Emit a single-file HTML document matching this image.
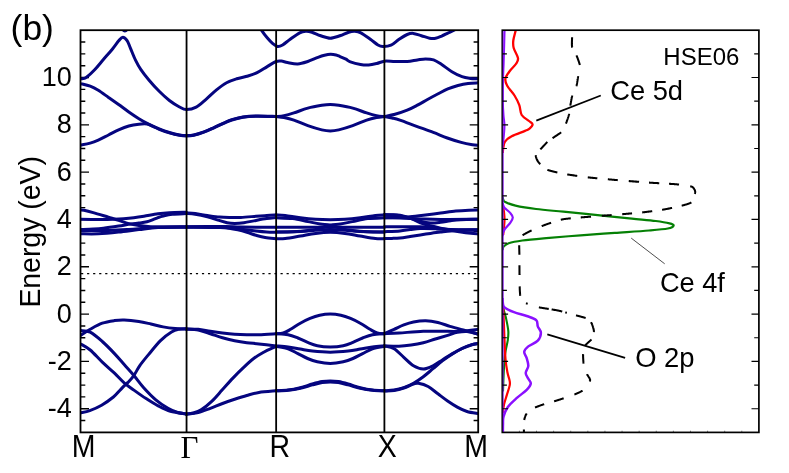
<!DOCTYPE html>
<html><head><meta charset="utf-8"><title>Band structure and DOS (HSE06)</title>
<style>
html,body{margin:0;padding:0;background:#fff;}
body{width:789px;height:473px;overflow:hidden;position:relative;font-family:"Liberation Sans",sans-serif;}
</style></head><body>
<svg width="789" height="473" viewBox="0 0 789 473" style="position:absolute;left:0;top:0;will-change:transform;opacity:0.999">
<defs><clipPath id="cl"><rect x="80.5" y="30.2" width="397.7" height="402.2"/></clipPath><clipPath id="cr"><rect x="502.3" y="30.2" width="256.59999999999997" height="402.2"/></clipPath></defs>
<rect width="100%" height="100%" fill="#fff"/>
<path d="M80.5,420.57h4.8M478.2,420.57h-4.6M80.5,408.74h8.5M478.2,408.74h-8.5M80.5,396.91h4.8M478.2,396.91h-4.6M80.5,385.08h4.8M478.2,385.08h-4.6M80.5,373.25h4.8M478.2,373.25h-4.6M80.5,361.42h8.5M478.2,361.42h-8.5M80.5,349.59h4.8M478.2,349.59h-4.6M80.5,337.76h4.8M478.2,337.76h-4.6M80.5,325.94h4.8M478.2,325.94h-4.6M80.5,314.11h8.5M478.2,314.11h-8.5M80.5,302.28h4.8M478.2,302.28h-4.6M80.5,290.45h4.8M478.2,290.45h-4.6M80.5,278.62h4.8M478.2,278.62h-4.6M80.5,266.79h8.5M478.2,266.79h-8.5M80.5,254.96h4.8M478.2,254.96h-4.6M80.5,243.13h4.8M478.2,243.13h-4.6M80.5,231.30h4.8M478.2,231.30h-4.6M80.5,219.47h8.5M478.2,219.47h-8.5M80.5,207.64h4.8M478.2,207.64h-4.6M80.5,195.81h4.8M478.2,195.81h-4.6M80.5,183.98h4.8M478.2,183.98h-4.6M80.5,172.15h8.5M478.2,172.15h-8.5M80.5,160.32h4.8M478.2,160.32h-4.6M80.5,148.49h4.8M478.2,148.49h-4.6M80.5,136.66h4.8M478.2,136.66h-4.6M80.5,124.84h8.5M478.2,124.84h-8.5M80.5,113.01h4.8M478.2,113.01h-4.6M80.5,101.18h4.8M478.2,101.18h-4.6M80.5,89.35h4.8M478.2,89.35h-4.6M80.5,77.52h8.5M478.2,77.52h-8.5M80.5,65.69h4.8M478.2,65.69h-4.6M80.5,53.86h4.8M478.2,53.86h-4.6M80.5,42.03h4.8M478.2,42.03h-4.6" stroke="#000" stroke-width="1.4" fill="none"/>
<g clip-path="url(#cl)" fill="none" stroke="#05057f" stroke-width="3.0" stroke-linecap="round" stroke-linejoin="round">
<path d="M80.50,78.90 C80.92,78.85 82.00,78.87 83.00,78.60 C84.00,78.33 84.52,78.82 86.50,77.30 C88.48,75.78 92.05,72.50 94.90,69.50 C97.75,66.50 100.70,62.68 103.60,59.30 C106.50,55.92 109.75,52.32 112.30,49.20 C114.85,46.08 117.15,42.58 118.90,40.60 C120.65,38.62 121.43,37.30 122.80,37.30 C124.17,37.30 125.82,38.77 127.10,40.60 C128.38,42.43 129.10,45.05 130.50,48.30 C131.90,51.55 133.77,56.55 135.50,60.10 C137.23,63.65 138.63,66.25 140.90,69.60 C143.17,72.95 146.05,76.58 149.10,80.20 C152.15,83.82 155.82,87.92 159.20,91.30 C162.58,94.68 166.02,97.88 169.40,100.50 C172.78,103.12 176.68,105.48 179.50,107.00 C182.32,108.52 183.52,109.57 186.30,109.60 C189.08,109.63 192.87,108.95 196.20,107.20 C199.53,105.45 202.92,101.98 206.30,99.10 C209.68,96.22 213.12,92.62 216.50,89.90 C219.88,87.18 223.22,84.65 226.60,82.80 C229.98,80.95 233.42,79.88 236.80,78.80 C240.18,77.72 243.52,77.32 246.90,76.30 C250.28,75.28 253.72,74.32 257.10,72.70 C260.48,71.08 264.03,68.47 267.20,66.60 C270.37,64.73 273.73,62.42 276.10,61.50 C278.47,60.58 279.50,60.93 281.40,61.10 C283.30,61.27 284.78,62.03 287.50,62.50 C290.22,62.97 294.32,64.07 297.70,63.90 C301.08,63.73 304.42,62.58 307.80,61.50 C311.18,60.42 315.22,58.43 318.00,57.40 C320.78,56.37 322.42,55.82 324.50,55.30 C326.58,54.78 328.58,54.35 330.50,54.30 C332.42,54.25 334.42,54.62 336.00,55.00 C337.58,55.38 338.33,55.90 340.00,56.60 C341.67,57.30 344.27,58.32 346.00,59.20 C347.73,60.08 347.98,61.02 350.40,61.90 C352.82,62.78 357.47,63.98 360.50,64.50 C363.53,65.02 365.88,65.17 368.60,65.00 C371.32,64.83 374.17,64.13 376.80,63.50 C379.43,62.87 381.37,61.53 384.40,61.20 C387.43,60.87 391.20,61.45 395.00,61.50 C398.80,61.55 403.47,61.77 407.20,61.50 C410.93,61.23 414.35,60.33 417.40,59.90 C420.45,59.47 422.80,58.90 425.50,58.90 C428.20,58.90 430.90,58.97 433.60,59.90 C436.30,60.83 438.65,62.53 441.70,64.50 C444.75,66.47 448.52,69.67 451.90,71.70 C455.28,73.73 458.95,75.58 462.00,76.70 C465.05,77.82 467.48,78.05 470.20,78.40 C472.92,78.75 476.95,78.73 478.30,78.80"/>
<path d="M80.50,83.60 C82.12,84.03 87.23,85.08 90.20,86.20 C93.17,87.32 95.25,88.43 98.30,90.30 C101.35,92.17 105.12,95.03 108.50,97.40 C111.88,99.77 115.22,102.07 118.60,104.50 C121.98,106.93 125.42,109.63 128.80,112.00 C132.18,114.37 135.52,116.63 138.90,118.70 C142.28,120.77 145.72,122.70 149.10,124.40 C152.48,126.10 155.82,127.55 159.20,128.90 C162.58,130.25 166.02,131.48 169.40,132.50 C172.78,133.52 176.68,134.48 179.50,135.00 C182.32,135.52 183.93,135.60 186.30,135.60 C188.67,135.60 190.77,135.62 193.70,135.00 C196.63,134.38 200.52,133.15 203.90,131.90 C207.28,130.65 210.62,129.02 214.00,127.50 C217.38,125.98 221.08,124.15 224.20,122.80 C227.32,121.45 229.58,120.38 232.70,119.40 C235.82,118.42 238.85,117.48 242.90,116.90 C246.95,116.32 251.47,115.97 257.00,115.90 C262.53,115.83 272.92,116.40 276.10,116.50"/>
<path d="M80.50,145.10 C82.12,144.77 87.23,143.93 90.20,143.10 C93.17,142.27 95.25,141.45 98.30,140.10 C101.35,138.75 105.12,136.70 108.50,135.00 C111.88,133.30 115.22,131.40 118.60,129.90 C121.98,128.40 125.42,126.95 128.80,126.00 C132.18,125.05 135.87,124.53 138.90,124.20 C141.93,123.87 144.65,123.63 147.00,124.00 C149.35,124.37 150.97,125.52 153.00,126.40 C155.03,127.28 156.47,128.22 159.20,129.30 C161.93,130.38 166.02,131.90 169.40,132.90 C172.78,133.90 176.68,134.80 179.50,135.30 C182.32,135.80 183.93,135.90 186.30,135.90 C188.67,135.90 190.77,135.92 193.70,135.30 C196.63,134.68 200.52,133.45 203.90,132.20 C207.28,130.95 210.62,129.32 214.00,127.80 C217.38,126.28 221.08,124.45 224.20,123.10 C227.32,121.75 229.58,120.68 232.70,119.70 C235.82,118.72 238.85,117.78 242.90,117.20 C246.95,116.62 251.47,116.30 257.00,116.20 C262.53,116.10 272.92,116.53 276.10,116.60"/>
<path d="M276.10,116.50 C277.42,116.35 281.03,116.20 284.00,115.60 C286.97,115.00 289.93,114.15 293.90,112.90 C297.87,111.65 303.15,109.37 307.80,108.10 C312.45,106.83 318.05,105.90 321.80,105.30 C325.55,104.70 327.45,104.50 330.27,104.50 C333.10,104.50 335.00,104.70 338.75,105.30 C342.50,105.90 348.10,106.83 352.75,108.10 C357.40,109.37 362.68,111.65 366.65,112.90 C370.62,114.15 373.58,115.00 376.55,115.60 C379.52,116.20 383.13,116.35 384.45,116.50"/>
<path d="M276.10,116.50 C277.42,116.67 281.03,116.90 284.00,117.50 C286.97,118.10 289.93,118.73 293.90,120.10 C297.87,121.47 303.15,124.07 307.80,125.70 C312.45,127.33 318.05,129.02 321.80,129.90 C325.55,130.78 327.45,131.00 330.27,131.00 C333.10,131.00 335.00,130.78 338.75,129.90 C342.50,129.02 348.10,127.33 352.75,125.70 C357.40,124.07 362.68,121.47 366.65,120.10 C370.62,118.73 373.58,118.10 376.55,117.50 C379.52,116.90 383.13,116.67 384.45,116.50"/>
<path d="M384.40,116.60 C386.17,116.22 391.20,115.37 395.00,114.30 C398.80,113.23 403.47,111.72 407.20,110.20 C410.93,108.68 414.02,106.98 417.40,105.20 C420.78,103.42 424.12,101.37 427.50,99.50 C430.88,97.63 434.32,95.77 437.70,94.00 C441.08,92.23 444.42,90.32 447.80,88.90 C451.18,87.48 454.62,86.42 458.00,85.50 C461.38,84.58 464.72,83.85 468.10,83.40 C471.48,82.95 476.60,82.90 478.30,82.80"/>
<path d="M384.40,116.60 C385.67,116.83 389.42,117.42 392.00,118.00 C394.58,118.58 395.80,118.72 399.90,120.10 C404.00,121.48 411.03,124.25 416.60,126.30 C422.17,128.35 428.18,130.45 433.30,132.40 C438.42,134.35 442.65,136.33 447.30,138.00 C451.95,139.67 457.02,141.28 461.20,142.40 C465.38,143.52 469.52,144.23 472.40,144.70 C475.28,145.17 477.48,145.12 478.50,145.20"/>
<path d="M258.00,24.00 C258.52,24.93 259.57,27.30 261.10,29.60 C262.63,31.90 265.25,35.47 267.20,37.80 C269.15,40.13 271.07,42.15 272.80,43.60 C274.53,45.05 275.97,46.27 277.60,46.50 C279.23,46.73 280.50,46.22 282.60,45.00 C284.70,43.78 287.35,41.23 290.20,39.20 C293.05,37.17 297.10,34.12 299.70,32.80 C302.30,31.48 303.77,31.40 305.80,31.30 C307.83,31.20 309.53,31.50 311.90,32.20 C314.27,32.90 317.57,34.62 320.00,35.50 C322.43,36.38 324.79,37.03 326.50,37.50 C328.21,37.97 329.02,38.30 330.27,38.30 C331.53,38.30 332.34,37.97 334.05,37.50 C335.76,37.03 338.12,36.38 340.55,35.50 C342.98,34.62 346.28,32.90 348.65,32.20 C351.02,31.50 352.72,31.20 354.75,31.30 C356.78,31.40 358.25,31.48 360.85,32.80 C363.45,34.12 367.50,37.17 370.35,39.20 C373.20,41.23 375.85,43.78 377.95,45.00 C380.05,46.22 380.77,46.47 382.95,46.50 C385.12,46.53 388.31,46.42 391.00,45.20 C393.69,43.98 396.40,40.98 399.10,39.20 C401.80,37.42 404.83,35.47 407.20,34.50 C409.57,33.53 410.93,33.20 413.30,33.40 C415.67,33.60 418.68,34.90 421.40,35.70 C424.12,36.50 427.23,37.77 429.60,38.20 C431.97,38.63 433.58,38.65 435.60,38.30 C437.62,37.95 439.67,36.97 441.70,36.10 C443.73,35.23 445.60,34.18 447.80,33.10 C450.00,32.02 452.87,30.78 454.90,29.60 C456.93,28.42 459.15,26.60 460.00,26.00"/>
<path d="M120.80,26.00 C121.15,26.63 122.22,28.98 122.90,29.80 C123.58,30.62 124.23,30.90 124.90,30.90 C125.57,30.90 126.22,30.62 126.90,29.80 C127.58,28.98 128.65,26.63 129.00,26.00"/>
<path d="M80.50,210.00 C81.08,210.05 81.88,209.87 84.00,210.30 C86.12,210.73 89.13,211.45 93.20,212.60 C97.27,213.75 104.17,215.92 108.40,217.20 C112.63,218.48 115.22,219.23 118.60,220.30 C121.98,221.37 125.32,222.72 128.70,223.60 C132.08,224.48 135.68,225.10 138.90,225.60 C142.12,226.10 144.22,226.37 148.00,226.60 C151.78,226.83 155.22,226.92 161.60,227.00 C167.98,227.08 182.18,227.08 186.30,227.10"/>
<path d="M80.50,219.30 C83.88,219.33 95.30,219.50 100.80,219.50 C106.30,219.50 109.70,219.42 113.50,219.30 C117.30,219.18 120.22,219.05 123.60,218.80 C126.98,218.55 130.42,218.22 133.80,217.80 C137.18,217.38 139.87,216.97 143.90,216.30 C147.93,215.63 153.77,214.40 158.00,213.80 C162.23,213.20 164.58,212.97 169.30,212.70 C174.02,212.43 183.47,212.28 186.30,212.20"/>
<path d="M80.50,229.50 C82.62,229.43 89.38,229.30 93.20,229.10 C97.02,228.90 99.17,228.80 103.40,228.30 C107.63,227.80 114.05,226.82 118.60,226.10 C123.15,225.38 127.32,224.50 130.70,224.00 C134.08,223.50 136.18,223.47 138.90,223.10 C141.62,222.73 144.65,222.37 147.00,221.80 C149.35,221.23 151.17,220.40 153.00,219.70 C154.83,219.00 156.30,218.22 158.00,217.60 C159.70,216.98 160.82,216.55 163.20,216.00 C165.58,215.45 168.45,214.70 172.30,214.30 C176.15,213.90 183.97,213.72 186.30,213.60"/>
<path d="M80.50,230.40 C85.15,230.42 100.37,230.65 108.40,230.50 C116.43,230.35 122.37,229.92 128.70,229.50 C135.03,229.08 140.92,228.40 146.40,228.00 C151.88,227.60 154.95,227.30 161.60,227.10 C168.25,226.90 182.18,226.85 186.30,226.80"/>
<path d="M80.50,233.80 C83.47,233.80 91.95,234.08 98.30,233.80 C104.65,233.52 111.83,232.80 118.60,232.10 C125.37,231.40 132.33,230.35 138.90,229.60 C145.47,228.85 150.10,227.98 158.00,227.60 C165.90,227.22 181.58,227.35 186.30,227.30"/>
<path d="M186.30,212.90 C187.78,213.02 191.68,213.17 195.20,213.60 C198.72,214.03 203.35,214.92 207.40,215.50 C211.45,216.08 215.70,216.77 219.50,217.10 C223.30,217.43 226.65,217.45 230.20,217.50 C233.75,217.55 236.50,217.60 240.80,217.40 C245.10,217.20 251.68,216.62 256.00,216.30 C260.32,215.98 263.35,215.72 266.70,215.50 C270.05,215.28 274.53,215.08 276.10,215.00"/>
<path d="M186.30,213.40 C187.78,213.53 191.68,213.63 195.20,214.20 C198.72,214.77 203.60,215.82 207.40,216.80 C211.20,217.78 214.72,219.12 218.00,220.10 C221.28,221.08 224.30,222.15 227.10,222.70 C229.90,223.25 232.00,223.40 234.80,223.40 C237.60,223.40 240.37,223.20 243.90,222.70 C247.43,222.20 252.20,221.08 256.00,220.40 C259.80,219.72 263.35,219.07 266.70,218.60 C270.05,218.13 274.53,217.77 276.10,217.60"/>
<path d="M186.30,226.70 C192.85,226.67 216.52,226.43 225.60,226.50 C234.68,226.57 232.38,226.97 240.80,227.10 C249.22,227.23 270.22,227.27 276.10,227.30"/>
<path d="M186.30,227.00 C192.85,227.07 216.52,227.03 225.60,227.40 C234.68,227.77 235.73,228.60 240.80,229.20 C245.87,229.80 251.68,230.53 256.00,231.00 C260.32,231.47 263.35,231.78 266.70,232.00 C270.05,232.22 274.53,232.25 276.10,232.30"/>
<path d="M186.30,227.30 C191.92,227.35 212.88,227.43 220.00,227.60 C227.12,227.77 226.03,227.92 229.00,228.30 C231.97,228.68 234.82,229.23 237.80,229.90 C240.78,230.57 243.87,231.40 246.90,232.30 C249.93,233.20 252.95,234.42 256.00,235.30 C259.05,236.18 261.85,237.02 265.20,237.60 C268.55,238.18 274.28,238.60 276.10,238.80"/>
<path d="M276.10,214.80 C277.62,214.92 281.15,215.00 285.20,215.50 C289.25,216.00 295.33,217.17 300.40,217.80 C305.47,218.43 310.62,218.98 315.60,219.30 C320.58,219.62 325.38,219.70 330.27,219.70 C335.17,219.70 339.97,219.62 344.95,219.30 C349.93,218.98 355.08,218.43 360.15,217.80 C365.22,217.17 371.30,216.00 375.35,215.50 C379.40,215.00 382.93,214.92 384.45,214.80"/>
<path d="M276.10,238.80 C277.62,238.77 281.15,239.05 285.20,238.60 C289.25,238.15 295.33,236.97 300.40,236.10 C305.47,235.23 310.62,234.03 315.60,233.40 C320.58,232.77 325.38,232.30 330.27,232.30 C335.17,232.30 339.97,232.77 344.95,233.40 C349.93,234.03 355.08,235.23 360.15,236.10 C365.22,236.97 371.30,238.15 375.35,238.60 C379.40,239.05 382.93,238.77 384.45,238.80"/>
<path d="M276.10,227.20 C294.15,227.20 366.35,227.20 384.40,227.20"/>
<path d="M276.10,217.80 C278.88,217.93 287.48,217.97 292.80,218.60 C298.12,219.23 303.43,220.72 308.00,221.60 C312.57,222.48 316.49,223.32 320.20,223.90 C323.91,224.48 326.94,224.35 330.27,225.10 C333.61,225.85 336.51,227.48 340.20,228.40 C343.89,229.32 347.83,230.03 352.40,230.60 C356.97,231.17 362.27,231.57 367.60,231.80 C372.93,232.03 381.60,231.97 384.40,232.00"/>
<path d="M276.15,232.00 C278.95,231.97 287.62,232.03 292.95,231.80 C298.28,231.57 303.58,231.17 308.15,230.60 C312.72,230.03 316.66,229.32 320.35,228.40 C324.04,227.48 326.94,225.85 330.27,225.10 C333.61,224.35 336.64,224.48 340.35,223.90 C344.06,223.32 347.98,222.48 352.55,221.60 C357.12,220.72 362.43,219.23 367.75,218.60 C373.07,217.97 381.67,217.93 384.45,217.80"/>
<path d="M276.10,232.00 C280.15,231.90 293.82,231.70 300.40,231.40 C306.98,231.10 310.62,230.50 315.60,230.20 C320.58,229.90 325.38,229.60 330.27,229.60 C335.17,229.60 339.97,229.90 344.95,230.20 C349.93,230.50 353.57,231.10 360.15,231.40 C366.73,231.70 380.40,231.90 384.45,232.00"/>
<path d="M384.40,217.80 C387.00,217.70 395.72,217.38 400.00,217.20 C404.28,217.02 405.87,217.07 410.10,216.70 C414.33,216.33 420.32,215.60 425.40,215.00 C430.48,214.40 435.53,213.75 440.60,213.10 C445.67,212.45 451.07,211.58 455.80,211.10 C460.53,210.62 465.23,210.38 469.00,210.20 C472.77,210.02 476.83,210.03 478.40,210.00"/>
<path d="M384.40,214.80 C385.67,214.83 389.40,214.83 392.00,215.00 C394.60,215.17 396.98,215.27 400.00,215.80 C403.02,216.33 406.72,217.28 410.10,218.20 C413.48,219.12 416.92,220.50 420.30,221.30 C423.68,222.10 427.02,222.83 430.40,223.00 C433.78,223.17 437.22,222.68 440.60,222.30 C443.98,221.92 447.32,221.13 450.70,220.70 C454.08,220.27 456.28,219.95 460.90,219.70 C465.52,219.45 475.48,219.28 478.40,219.20"/>
<path d="M384.40,217.80 C387.00,217.83 394.07,217.82 400.00,218.00 C405.93,218.18 413.23,218.65 420.00,218.90 C426.77,219.15 430.87,219.43 440.60,219.50 C450.33,219.57 472.10,219.33 478.40,219.30"/>
<path d="M384.40,214.80 C385.67,214.78 389.40,214.62 392.00,214.70 C394.60,214.78 396.98,214.72 400.00,215.30 C403.02,215.88 406.72,216.95 410.10,218.20 C413.48,219.45 416.92,221.53 420.30,222.80 C423.68,224.07 427.02,224.90 430.40,225.80 C433.78,226.70 437.22,227.47 440.60,228.20 C443.98,228.93 447.32,229.58 450.70,230.20 C454.08,230.82 457.52,231.40 460.90,231.90 C464.28,232.40 468.08,232.87 471.00,233.20 C473.92,233.53 477.17,233.78 478.40,233.90"/>
<path d="M384.40,226.70 C390.38,226.72 411.78,226.52 420.30,226.80 C428.82,227.08 430.43,227.93 435.50,228.40 C440.57,228.87 443.55,229.35 450.70,229.60 C457.85,229.85 473.78,229.85 478.40,229.90"/>
<path d="M384.40,231.70 C387.00,231.57 395.72,231.25 400.00,230.90 C404.28,230.55 406.72,230.00 410.10,229.60 C413.48,229.20 416.07,228.65 420.30,228.50 C424.53,228.35 430.43,228.50 435.50,228.70 C440.57,228.90 443.55,229.48 450.70,229.70 C457.85,229.92 473.78,229.95 478.40,230.00"/>
<path d="M384.40,238.40 C385.67,238.40 389.40,238.47 392.00,238.40 C394.60,238.33 396.98,238.32 400.00,238.00 C403.02,237.68 406.72,237.02 410.10,236.50 C413.48,235.98 416.92,235.42 420.30,234.90 C423.68,234.38 427.02,233.87 430.40,233.40 C433.78,232.93 437.22,232.52 440.60,232.10 C443.98,231.68 447.32,231.22 450.70,230.90 C454.08,230.58 456.28,230.38 460.90,230.20 C465.52,230.02 475.48,229.87 478.40,229.80"/>
<path d="M80.50,335.40 C82.12,334.38 86.57,331.33 90.20,329.30 C93.83,327.27 98.25,324.65 102.30,323.20 C106.35,321.75 110.85,321.13 114.50,320.60 C118.15,320.07 120.15,319.85 124.20,320.00 C128.25,320.15 134.35,320.83 138.80,321.50 C143.25,322.17 146.85,323.10 150.90,324.00 C154.95,324.90 159.03,326.13 163.10,326.90 C167.17,327.67 171.43,328.23 175.30,328.60 C179.17,328.97 184.47,329.02 186.30,329.10"/>
<path d="M80.50,330.50 C82.12,330.78 86.57,330.37 90.20,332.20 C93.83,334.03 98.25,337.93 102.30,341.50 C106.35,345.07 110.85,349.75 114.50,353.60 C118.15,357.45 120.97,360.95 124.20,364.60 C127.43,368.25 130.65,371.65 133.90,375.50 C137.15,379.35 140.05,383.65 143.70,387.70 C147.35,391.75 151.75,396.37 155.80,399.80 C159.85,403.23 164.35,406.18 168.00,408.30 C171.65,410.42 174.65,411.57 177.70,412.50 C180.75,413.43 184.87,413.67 186.30,413.90"/>
<path d="M80.50,343.90 C82.12,344.92 86.57,346.97 90.20,350.00 C93.83,353.03 98.25,358.25 102.30,362.10 C106.35,365.95 110.85,369.65 114.50,373.10 C118.15,376.55 120.97,379.97 124.20,382.80 C127.43,385.63 130.25,387.47 133.90,390.10 C137.55,392.73 142.05,395.97 146.10,398.60 C150.15,401.23 154.15,403.78 158.20,405.90 C162.25,408.02 165.72,409.97 170.40,411.30 C175.08,412.63 183.65,413.47 186.30,413.90"/>
<path d="M80.50,412.80 C82.05,412.43 86.28,411.87 89.80,410.60 C93.32,409.33 97.67,407.47 101.60,405.20 C105.53,402.93 110.33,399.50 113.40,397.00 C116.47,394.50 118.17,392.10 120.00,390.20 C121.83,388.30 123.07,386.90 124.40,385.60 C125.73,384.30 126.43,384.07 128.00,382.40 C129.57,380.73 131.83,378.40 133.80,375.60 C135.77,372.80 137.35,369.10 139.80,365.60 C142.25,362.10 145.05,358.77 148.50,354.60 C151.95,350.43 156.67,344.37 160.50,340.60 C164.33,336.83 168.42,333.90 171.50,332.00 C174.58,330.10 176.53,329.75 179.00,329.20 C181.47,328.65 185.08,328.78 186.30,328.70"/>
<path d="M186.30,328.90 C188.28,328.97 194.20,328.90 198.20,329.30 C202.20,329.70 206.25,330.68 210.30,331.30 C214.35,331.92 218.45,332.52 222.50,333.00 C226.55,333.48 230.55,333.92 234.60,334.20 C238.65,334.48 242.75,334.62 246.80,334.70 C250.85,334.78 254.02,334.87 258.90,334.70 C263.78,334.53 273.23,333.87 276.10,333.70"/>
<path d="M186.30,329.20 C188.28,329.33 194.20,329.25 198.20,330.00 C202.20,330.75 206.25,332.40 210.30,333.70 C214.35,335.00 218.45,336.63 222.50,337.80 C226.55,338.97 230.55,339.88 234.60,340.70 C238.65,341.52 242.75,342.17 246.80,342.70 C250.85,343.23 254.02,343.37 258.90,343.90 C263.78,344.43 273.23,345.57 276.10,345.90"/>
<path d="M186.30,414.00 C187.42,413.83 190.53,413.68 193.00,413.00 C195.47,412.32 197.98,411.83 201.10,409.90 C204.22,407.97 208.17,404.75 211.70,401.40 C215.23,398.05 218.77,393.68 222.30,389.80 C225.83,385.92 229.38,381.80 232.90,378.10 C236.42,374.40 239.88,370.90 243.40,367.60 C246.92,364.30 250.47,360.95 254.00,358.30 C257.53,355.65 261.77,353.32 264.60,351.70 C267.43,350.08 269.08,349.45 271.00,348.60 C272.92,347.75 275.25,346.93 276.10,346.60"/>
<path d="M186.30,414.20 C188.28,413.92 194.20,413.48 198.20,412.50 C202.20,411.52 206.25,409.80 210.30,408.30 C214.35,406.80 218.45,405.00 222.50,403.50 C226.55,402.00 230.55,400.63 234.60,399.30 C238.65,397.97 242.75,396.63 246.80,395.50 C250.85,394.37 254.02,393.28 258.90,392.50 C263.78,391.72 273.23,391.08 276.10,390.80"/>
<path d="M276.10,333.70 C277.30,333.58 280.88,333.73 283.30,333.00 C285.72,332.27 287.77,330.93 290.60,329.30 C293.43,327.67 297.07,325.02 300.30,323.20 C303.53,321.38 306.77,319.73 310.00,318.40 C313.23,317.07 316.32,315.93 319.70,315.20 C323.08,314.47 326.75,314.00 330.27,314.00 C333.80,314.00 337.47,314.47 340.85,315.20 C344.23,315.93 347.32,317.07 350.55,318.40 C353.78,319.73 357.02,321.38 360.25,323.20 C363.48,325.02 367.12,327.67 369.95,329.30 C372.78,330.93 374.83,332.27 377.25,333.00 C379.67,333.73 383.25,333.58 384.45,333.70"/>
<path d="M276.10,333.70 C278.10,333.87 284.47,333.98 288.10,334.70 C291.73,335.42 294.65,336.72 297.90,338.00 C301.15,339.28 304.37,341.12 307.60,342.40 C310.83,343.68 313.52,344.95 317.30,345.70 C321.08,346.45 325.95,346.90 330.27,346.90 C334.60,346.90 339.47,346.45 343.25,345.70 C347.03,344.95 349.72,343.68 352.95,342.40 C356.18,341.12 359.40,339.28 362.65,338.00 C365.90,336.72 368.82,335.42 372.45,334.70 C376.08,333.98 382.45,333.87 384.45,333.70"/>
<path d="M276.10,345.90 C278.10,346.07 284.07,346.37 288.10,346.90 C292.13,347.43 296.25,348.40 300.30,349.10 C304.35,349.80 307.40,350.58 312.40,351.10 C317.40,351.62 324.32,352.20 330.27,352.20 C336.23,352.20 343.15,351.62 348.15,351.10 C353.15,350.58 356.20,349.80 360.25,349.10 C364.30,348.40 368.42,347.43 372.45,346.90 C376.48,346.37 382.45,346.07 384.45,345.90"/>
<path d="M276.10,346.30 C278.10,346.72 284.47,347.58 288.10,348.80 C291.73,350.02 294.65,351.98 297.90,353.60 C301.15,355.22 304.37,357.15 307.60,358.50 C310.83,359.85 313.52,360.88 317.30,361.70 C321.08,362.52 325.95,363.40 330.27,363.40 C334.60,363.40 339.47,362.52 343.25,361.70 C347.03,360.88 349.72,359.85 352.95,358.50 C356.18,357.15 359.40,355.22 362.65,353.60 C365.90,351.98 368.82,350.02 372.45,348.80 C376.08,347.58 382.45,346.72 384.45,346.30"/>
<path d="M276.10,390.80 C278.10,390.68 284.07,390.62 288.10,390.10 C292.13,389.58 296.25,388.72 300.30,387.70 C304.35,386.68 308.75,385.02 312.40,384.00 C316.05,382.98 319.22,382.12 322.20,381.60 C325.18,381.08 327.58,380.90 330.27,380.90 C332.97,380.90 335.37,381.08 338.35,381.60 C341.33,382.12 344.50,382.98 348.15,384.00 C351.80,385.02 356.20,386.68 360.25,387.70 C364.30,388.72 368.42,389.58 372.45,390.10 C376.48,390.62 382.45,390.68 384.45,390.80"/>
<path d="M276.10,390.80 C278.10,390.70 284.07,390.63 288.10,390.20 C292.13,389.77 296.25,389.08 300.30,388.20 C304.35,387.32 308.75,385.83 312.40,384.90 C316.05,383.97 319.22,383.10 322.20,382.60 C325.18,382.10 327.58,381.90 330.27,381.90 C332.97,381.90 335.37,382.10 338.35,382.60 C341.33,383.10 344.50,383.97 348.15,384.90 C351.80,385.83 356.20,387.32 360.25,388.20 C364.30,389.08 368.42,389.77 372.45,390.20 C376.48,390.63 382.45,390.70 384.45,390.80"/>
<path d="M384.40,333.70 C386.02,332.97 390.87,330.77 394.10,329.30 C397.33,327.83 400.57,326.12 403.80,324.90 C407.03,323.68 409.85,322.68 413.50,322.00 C417.15,321.32 421.63,320.72 425.70,320.80 C429.77,320.88 433.85,321.57 437.90,322.50 C441.95,323.43 445.95,325.18 450.00,326.40 C454.05,327.62 458.87,328.90 462.20,329.80 C465.53,330.70 467.28,331.07 470.00,331.80 C472.72,332.53 477.08,333.80 478.50,334.20"/>
<path d="M384.40,333.70 C386.83,333.58 392.52,333.40 399.00,333.00 C405.48,332.60 415.20,331.58 423.30,331.30 C431.40,331.02 441.12,331.30 447.60,331.30 C454.08,331.30 457.05,331.63 462.20,331.30 C467.35,330.97 475.78,329.63 478.50,329.30"/>
<path d="M384.40,345.90 C386.83,345.97 394.55,346.43 399.00,346.30 C403.45,346.17 407.05,345.70 411.10,345.10 C415.15,344.50 419.25,343.72 423.30,342.70 C427.35,341.68 431.35,340.22 435.40,339.00 C439.45,337.78 443.95,336.50 447.60,335.40 C451.25,334.30 454.07,333.05 457.30,332.40 C460.53,331.75 463.47,331.23 467.00,331.50 C470.53,331.77 476.58,333.58 478.50,334.00"/>
<path d="M384.40,345.90 C386.02,346.38 390.87,346.90 394.10,348.80 C397.33,350.70 400.57,354.47 403.80,357.30 C407.03,360.13 410.25,363.85 413.50,365.80 C416.75,367.75 420.05,369.00 423.30,369.00 C426.55,369.00 429.77,367.35 433.00,365.80 C436.23,364.25 439.47,361.73 442.70,359.70 C445.93,357.67 449.15,355.50 452.40,353.60 C455.65,351.70 458.95,349.80 462.20,348.30 C465.45,346.80 469.18,345.42 471.90,344.60 C474.62,343.78 477.40,343.60 478.50,343.40"/>
<path d="M384.40,390.80 C386.02,390.68 390.87,390.62 394.10,390.10 C397.33,389.58 400.57,388.83 403.80,387.70 C407.03,386.57 410.25,385.13 413.50,383.30 C416.75,381.47 420.05,379.13 423.30,376.70 C426.55,374.27 429.77,371.38 433.00,368.70 C436.23,366.02 439.47,363.07 442.70,360.60 C445.93,358.13 449.15,355.92 452.40,353.90 C455.65,351.88 458.95,350.02 462.20,348.50 C465.45,346.98 469.18,345.62 471.90,344.80 C474.62,343.98 477.40,343.80 478.50,343.60"/>
<path d="M384.40,391.00 C386.02,390.90 390.87,390.90 394.10,390.40 C397.33,389.90 400.57,389.07 403.80,388.00 C407.03,386.93 411.07,384.78 413.50,384.00 C415.93,383.22 415.97,382.88 418.40,383.30 C420.83,383.72 424.85,384.75 428.10,386.50 C431.35,388.25 434.65,391.38 437.90,393.80 C441.15,396.22 444.37,398.78 447.60,401.00 C450.83,403.22 454.07,405.35 457.30,407.10 C460.53,408.85 463.47,410.40 467.00,411.50 C470.53,412.60 476.58,413.33 478.50,413.70"/>
</g>
<line x1="81.03" y1="273.6" x2="478.2" y2="273.6" stroke="#000" stroke-width="1.25" stroke-dasharray="2.2 3.845"/>
<line x1="186.55" y1="30.2" x2="186.55" y2="432.4" stroke="#000" stroke-width="1.8"/>
<line x1="276.15" y1="30.2" x2="276.15" y2="432.4" stroke="#000" stroke-width="1.8"/>
<line x1="384.4" y1="30.2" x2="384.4" y2="432.4" stroke="#000" stroke-width="1.8"/>
<rect x="80.5" y="30.2" width="397.7" height="402.2" fill="none" stroke="#000" stroke-width="1.8"/>
<g clip-path="url(#cr)" fill="none" stroke-linejoin="round" stroke-linecap="butt">
<path d="M502.60,197.00 C502.70,197.43 502.75,198.75 503.20,199.60 C503.65,200.45 503.25,201.10 505.30,202.10 C507.35,203.10 510.37,204.45 515.50,205.60 C520.63,206.75 528.12,207.98 536.10,209.00 C544.08,210.02 553.13,210.68 563.40,211.70 C573.67,212.72 586.28,213.95 597.70,215.10 C609.12,216.25 622.22,217.62 631.90,218.60 C641.58,219.58 649.53,220.20 655.80,221.00 C662.07,221.80 666.53,222.63 669.50,223.40 C672.47,224.17 673.88,224.75 673.60,225.60 C673.32,226.45 671.90,227.68 667.80,228.50 C663.70,229.32 657.83,229.77 649.00,230.50 C640.17,231.23 626.20,232.10 614.80,232.90 C603.40,233.70 592.02,234.43 580.60,235.30 C569.18,236.17 556.00,237.23 546.30,238.10 C536.60,238.97 528.67,239.65 522.40,240.50 C516.13,241.35 511.83,242.18 508.70,243.20 C505.57,244.22 504.62,245.47 503.60,246.60 C502.58,247.73 502.77,249.43 502.60,250.00" stroke="#058005" stroke-width="2.2"/>
<path d="M502.80,305.00 C503.00,306.00 503.45,308.75 504.00,311.00 C504.55,313.25 505.38,315.13 506.10,318.50 C506.82,321.87 508.03,327.50 508.30,331.20 C508.57,334.90 508.22,337.00 507.70,340.70 C507.18,344.40 505.83,348.65 505.20,353.40 C504.57,358.15 504.27,362.87 503.90,369.20 C503.53,375.53 503.15,387.70 503.00,391.40" stroke="#058005" stroke-width="2.1"/>
<path d="M515.80,26.00 C515.78,26.72 516.12,27.88 515.70,30.30 C515.28,32.72 513.63,37.55 513.30,40.50 C512.97,43.45 512.92,45.05 513.70,48.00 C514.48,50.95 517.63,55.53 518.00,58.20 C518.37,60.87 517.27,61.87 515.90,64.00 C514.53,66.13 511.55,68.58 509.80,71.00 C508.05,73.42 505.83,76.03 505.40,78.50 C504.97,80.97 505.68,82.97 507.20,85.80 C508.72,88.63 512.48,92.27 514.50,95.50 C516.52,98.73 518.10,101.95 519.30,105.20 C520.50,108.45 520.08,112.37 521.70,115.00 C523.32,117.63 527.18,119.42 529.00,121.00 C530.82,122.58 532.52,123.23 532.60,124.50 C532.68,125.77 530.77,127.53 529.50,128.60 C528.23,129.67 527.97,129.63 525.00,130.90 C522.03,132.17 515.03,134.40 511.70,136.20 C508.37,138.00 506.42,139.65 505.00,141.70 C503.58,143.75 503.57,146.62 503.20,148.50 C502.83,150.38 502.87,152.25 502.80,153.00" stroke="#ff0000" stroke-width="2.3"/>
<path d="M503.30,207.00 C503.45,208.00 503.98,210.83 504.20,213.00 C504.42,215.17 504.63,217.50 504.60,220.00 C504.57,222.50 504.22,225.50 504.00,228.00 C503.78,230.50 503.42,233.83 503.30,235.00" stroke="#ff0000" stroke-width="2.0"/>
<path d="M502.80,302.00 C502.87,303.17 503.03,305.72 503.20,309.00 C503.37,312.28 503.60,316.95 503.80,321.70 C504.00,326.45 504.12,331.28 504.40,337.50 C504.68,343.72 505.00,353.20 505.50,359.00 C506.00,364.80 506.72,368.70 507.40,372.30 C508.08,375.90 509.22,378.42 509.60,380.60 C509.98,382.78 510.17,382.98 509.70,385.40 C509.23,387.82 507.75,391.90 506.80,395.10 C505.85,398.30 504.65,401.62 504.00,404.60 C503.35,407.58 503.08,411.60 502.90,413.00" stroke="#ff0000" stroke-width="2.2"/>
<path d="M502.60,298.00 C502.63,298.75 502.48,300.93 502.80,302.50 C503.12,304.07 502.63,305.78 504.50,307.40 C506.37,309.02 510.30,310.77 514.00,312.20 C517.70,313.63 523.00,314.68 526.70,316.00 C530.40,317.32 534.35,318.37 536.20,320.10 C538.05,321.83 537.02,324.28 537.80,326.40 C538.58,328.52 540.90,330.42 540.90,332.80 C540.90,335.18 539.90,338.43 537.80,340.70 C535.70,342.97 530.57,344.55 528.30,346.40 C526.03,348.25 524.47,349.85 524.20,351.80 C523.93,353.75 526.02,355.73 526.70,358.10 C527.38,360.47 528.47,363.52 528.30,366.00 C528.13,368.48 525.70,370.88 525.70,373.00 C525.70,375.12 527.45,376.95 528.30,378.70 C529.15,380.45 531.07,381.65 530.80,383.50 C530.53,385.35 528.97,387.43 526.70,389.80 C524.43,392.17 520.37,394.80 517.20,397.70 C514.03,400.60 509.98,404.03 507.70,407.20 C505.42,410.37 504.28,413.90 503.50,416.70 C502.72,419.50 503.10,421.45 503.00,424.00 C502.90,426.55 502.92,430.67 502.90,432.00" stroke="#8a10ff" stroke-width="2.5"/>
<path d="M502.60,203.00 C502.77,203.55 503.20,205.42 503.60,206.30 C504.00,207.18 503.87,207.17 505.00,208.30 C506.13,209.43 509.10,211.57 510.40,213.10 C511.70,214.63 512.80,215.90 512.80,217.50 C512.80,219.10 511.70,220.82 510.40,222.70 C509.10,224.58 506.23,227.10 505.00,228.80 C503.77,230.50 503.40,231.70 503.00,232.90 C502.60,234.10 502.67,235.48 502.60,236.00" stroke="#8a10ff" stroke-width="2.2"/>
<path d="M504.70,30.00 C504.63,32.50 504.47,39.17 504.30,45.00 C504.13,50.83 503.90,59.17 503.70,65.00 C503.50,70.83 503.23,74.17 503.10,80.00 C502.97,85.83 502.82,94.17 502.90,100.00 C502.98,105.83 503.32,110.83 503.60,115.00 C503.88,119.17 504.53,121.67 504.60,125.00 C504.67,128.33 504.27,131.67 504.00,135.00 C503.73,138.33 503.17,143.33 503.00,145.00" stroke="#8a10ff" stroke-width="1.8"/>
<path d="M572.10,37.20L572.10,37.28L572.10,37.39L572.09,37.51L572.09,37.66L572.08,37.82L572.07,38.00L572.07,38.20L572.06,38.41L572.05,38.63L572.04,38.87L572.03,39.12L572.02,39.38L572.01,39.65L571.99,39.93L571.98,40.22L571.97,40.51L571.96,40.81L571.95,41.11L571.94,41.42L571.94,41.73L571.93,42.04L571.92,42.36L571.91,42.67L571.91,42.98L571.91,43.29L571.90,43.59L571.90,43.89L571.91,44.19L571.91,44.47L571.91,44.75L571.92,45.02L571.93,45.29L571.94,45.54L571.96,45.77L571.97,46.00L571.99,46.21L572.02,46.41L572.04,46.59L572.07,46.75L572.10,46.90L572.14,47.04L572.19,47.19L572.24,47.36L572.31,47.53M576.50,55.40L576.56,55.55L576.63,55.73L576.71,55.92L576.79,56.12L576.88,56.34L576.97,56.57L577.07,56.82L577.17,57.08L577.27,57.35L577.38,57.63L577.49,57.92L577.60,58.22L577.71,58.52L577.83,58.84L577.95,59.16L578.06,59.48L578.18,59.81L578.30,60.14L578.42,60.47L578.54,60.80L578.65,61.13L578.77,61.47L578.88,61.80L578.99,62.13L579.10,62.45L579.20,62.77L579.30,63.09L579.40,63.40L579.49,63.70L579.58,64.00L579.66,64.28L579.74,64.56L579.81,64.82L579.87,65.08M578.20,76.10L578.17,76.25L578.14,76.42L578.11,76.60L578.08,76.79L578.05,77.00L578.01,77.21L577.98,77.44L577.94,77.67L577.90,77.91L577.87,78.17L577.83,78.42L577.79,78.69L577.74,78.96L577.70,79.23L577.66,79.51L577.62,79.80L577.57,80.08L577.53,80.37L577.48,80.66L577.44,80.95L577.39,81.24L577.34,81.53L577.30,81.82L577.25,82.11L577.20,82.39L577.15,82.67L577.11,82.95L577.06,83.22L577.01,83.48L576.96,83.74L576.92,83.99L576.87,84.23L576.82,84.47L576.77,84.69L576.73,84.91L576.68,85.11L576.64,85.30L576.59,85.48L576.54,85.65L576.50,85.80L576.45,85.95L576.39,86.12L576.33,86.30M572.30,95.50L572.25,95.65L572.21,95.82L572.16,96.00L572.11,96.19L572.06,96.40L572.00,96.62L571.95,96.84L571.90,97.08L571.84,97.32L571.79,97.58L571.73,97.84L571.68,98.10L571.62,98.38L571.57,98.66L571.51,98.94L571.46,99.23L571.40,99.51L571.35,99.81L571.29,100.10L571.24,100.39L571.18,100.68L571.13,100.98L571.08,101.27L571.03,101.55L570.98,101.84L570.93,102.12L570.88,102.39L570.83,102.66L570.79,102.93L570.74,103.19L570.70,103.43L570.66,103.67L570.62,103.91L570.58,104.13L570.55,104.34L570.51,104.54L570.48,104.72L570.45,104.90L570.42,105.06L570.40,105.20L570.38,105.34L570.35,105.50L570.33,105.66M569.20,113.80L569.17,113.94L569.13,114.10L569.08,114.27L569.03,114.45L568.97,114.65L568.91,114.85L568.85,115.07L568.78,115.30L568.70,115.54L568.63,115.78L568.55,116.04L568.47,116.30L568.38,116.56L568.30,116.84L568.21,117.11L568.12,117.39L568.02,117.67L567.93,117.95L567.84,118.24L567.74,118.52L567.65,118.81L567.55,119.09L567.46,119.37L567.36,119.65L567.27,119.92L567.18,120.19L567.09,120.45L567.00,120.71L566.92,120.96L566.83,121.20L566.75,121.43L566.68,121.66L566.60,121.87L566.53,122.07L566.46,122.26L566.40,122.44L566.34,122.60L566.29,122.75L566.24,122.88L566.20,123.00L566.16,123.11L566.12,123.23L566.07,123.35L566.02,123.48L565.97,123.61M561.07,132.33L561.00,132.40L560.92,132.47L560.83,132.54L560.73,132.62L560.62,132.71L560.50,132.80L560.37,132.90L560.23,133.00L560.08,133.11L559.92,133.22L559.76,133.33L559.59,133.45L559.41,133.57L559.23,133.70L559.04,133.82L558.85,133.95L558.66,134.08L558.46,134.21L558.26,134.35L558.06,134.48L557.85,134.62L557.65,134.75L557.44,134.89L557.24,135.02L557.04,135.15L556.84,135.29L556.64,135.42L556.44,135.54L556.25,135.67L556.06,135.80L555.87,135.92L555.69,136.04L555.52,136.15L555.35,136.26L555.19,136.37L555.04,136.47L554.89,136.57L554.75,136.66L554.63,136.74L554.51,136.83L554.40,136.90L554.29,136.97L554.17,137.06L554.05,137.15L553.91,137.24L553.76,137.34L553.61,137.45L553.44,137.56L553.27,137.68L553.10,137.80L552.91,137.92L552.72,138.05L552.53,138.19M547.40,141.90L547.30,141.99L547.19,142.09L547.08,142.20L546.96,142.32L546.83,142.44L546.69,142.58L546.55,142.72L546.41,142.87L546.26,143.02L546.10,143.19L545.94,143.35L545.78,143.52L545.62,143.70L545.45,143.88L545.28,144.06L545.11,144.25L544.94,144.43L544.77,144.62L544.59,144.81L544.42,145.00L544.24,145.19L544.07,145.38L543.90,145.57L543.73,145.76L543.56,145.95L543.40,146.13L543.24,146.31L543.08,146.48L542.92,146.65L542.77,146.82L542.63,146.98L542.49,147.14L542.35,147.29L542.22,147.43L542.10,147.56L541.99,147.69L541.88,147.80L541.78,147.91L541.68,148.01L541.60,148.10L541.52,148.19L541.43,148.28L541.33,148.38L541.22,148.49L541.11,148.60L541.00,148.71L540.88,148.83L540.75,148.96L540.62,149.09L540.48,149.22L540.35,149.36M535.92,155.15L535.90,155.24L535.88,155.33L535.86,155.41L535.85,155.49L535.84,155.57L535.83,155.65L535.82,155.73L535.81,155.80L535.80,155.88L535.80,155.95L535.80,156.02L535.79,156.08L535.80,156.14L535.80,156.20L535.81,156.26L535.82,156.33L535.83,156.40L535.85,156.49L535.87,156.57L535.89,156.67L535.92,156.77L535.94,156.87L535.98,156.98L536.01,157.09L536.05,157.21L536.08,157.33L536.12,157.45L536.17,157.58L536.21,157.71L536.25,157.84L536.30,157.97L536.35,158.11L536.40,158.24L536.45,158.38L536.50,158.51L536.55,158.65L536.60,158.78L536.65,158.92L536.70,159.05L536.76,159.18L536.81,159.31L536.86,159.43L536.91,159.55L536.96,159.67L537.01,159.79L537.06,159.90L537.11,160.01L537.15,160.11L537.20,160.21L537.24,160.30L537.28,160.38L537.33,160.46L537.36,160.53L537.40,160.60L537.44,160.66L537.48,160.73L537.52,160.80L537.57,160.88L537.63,160.96L537.68,161.04L537.74,161.13L537.81,161.22L537.87,161.31L537.94,161.41L538.01,161.51L538.09,161.61L538.16,161.71L538.24,161.81L538.32,161.92L538.41,162.03L538.49,162.13L538.58,162.24L538.66,162.35L538.75,162.46L538.84,162.57L538.93,162.68L539.02,162.79L539.11,162.90L539.20,163.01L539.30,163.12L539.39,163.22L539.48,163.33L539.57,163.43L539.66,163.53L539.75,163.63L539.84,163.73L539.93,163.83L540.01,163.92L540.10,164.01L540.18,164.09L540.27,164.17M547.40,169.80L547.54,169.86L547.70,169.93L547.87,170.00L548.06,170.07L548.27,170.14L548.49,170.21L548.72,170.29L548.97,170.36L549.23,170.44L549.50,170.52L549.77,170.60L550.06,170.68L550.36,170.76L550.66,170.84L550.96,170.92L551.28,171.01L551.59,171.09L551.91,171.17L552.24,171.25L552.56,171.33L552.88,171.42L553.21,171.50L553.53,171.57L553.85,171.65L554.17,171.73L554.48,171.80L554.79,171.88L555.09,171.95L555.38,172.02L555.67,172.08L555.95,172.15L556.21,172.21L556.47,172.27L556.72,172.33L556.95,172.38L557.17,172.43L557.38,172.48M567.20,174.40L567.44,174.44L567.71,174.48L568.02,174.53L568.35,174.58L568.72,174.64L569.11,174.70L569.53,174.76L569.98,174.83L570.44,174.90L570.93,174.97L571.44,175.05L571.96,175.13L572.51,175.21L573.06,175.29L573.63,175.38L574.21,175.47L574.80,175.55L575.40,175.64L576.01,175.73L576.62,175.82L577.24,175.91M587.78,177.34L588.20,177.39L588.66,177.44L589.16,177.49L589.69,177.55L590.26,177.61L590.86,177.67L591.49,177.73L592.14,177.80L592.82,177.86L593.53,177.93L594.25,178.00L595.00,178.08L595.76,178.15L596.54,178.22L597.33,178.30M607.84,179.28L608.59,179.35L609.33,179.41L610.04,179.48L610.74,179.54L611.41,179.60L612.05,179.66L612.66,179.71L613.25,179.76L613.80,179.81L614.32,179.86L614.80,179.90L615.29,179.94L615.84,179.99L616.44,180.04L617.09,180.09L617.79,180.15M628.76,181.03L629.80,181.12L630.85,181.20L631.90,181.28L632.95,181.37L634.00,181.45L635.04,181.53L636.07,181.61L637.10,181.69L638.10,181.77L639.09,181.85M649.00,182.60L649.48,182.63L650.00,182.67L650.56,182.71L651.15,182.74L651.77,182.78L652.42,182.82L653.10,182.86L653.80,182.91L654.53,182.95L655.28,182.99L656.04,183.04L656.83,183.08L657.62,183.13L658.43,183.18L659.25,183.22M669.02,183.79L669.76,183.84L670.48,183.88L671.18,183.92L671.85,183.97L672.50,184.01L673.11,184.05L673.70,184.09L674.25,184.13L674.76,184.16L675.23,184.20L675.67,184.24L676.06,184.27L676.40,184.30L676.73,184.33L677.08,184.37L677.44,184.41L677.82,184.45L678.21,184.49L678.62,184.54L679.04,184.58M690.20,186.26L690.50,186.33L690.77,186.40L691.03,186.46L691.26,186.52L691.46,186.58L691.65,186.64L691.80,186.70L691.94,186.76L692.08,186.83L692.22,186.91L692.35,186.99L692.49,187.08L692.62,187.17L692.75,187.28L692.88,187.38L693.00,187.50L693.12,187.62L693.25,187.74L693.36,187.87L693.48,188.00L693.59,188.13L693.70,188.27L693.81,188.42L693.91,188.56L694.01,188.71L694.11,188.86L694.21,189.01L694.30,189.16L694.38,189.31L694.47,189.47L694.54,189.62L694.62,189.78L694.69,189.93L694.76,190.09L694.82,190.24L694.88,190.39L694.93,190.54L694.98,190.69L695.03,190.84L695.07,190.99L695.10,191.13L695.13,191.27L695.16,191.40L695.17,191.53L695.19,191.66L695.20,191.78L695.20,191.90L695.20,192.03L695.19,192.17L695.17,192.34L695.15,192.52L695.12,192.72L695.08,192.94L695.04,193.17L694.99,193.41L694.94,193.67L694.89,193.94M691.36,202.43L691.17,202.54L690.96,202.66L690.74,202.77L690.50,202.89L690.24,203.00L689.97,203.12L689.68,203.24L689.39,203.35L689.08,203.47L688.76,203.59L688.43,203.71L688.09,203.83L687.75,203.94L687.40,204.06L687.04,204.17L686.68,204.29L686.31,204.40L685.95,204.51L685.58,204.62L685.21,204.73L684.84,204.84L684.47,204.95L684.10,205.05L683.74,205.15L683.38,205.25L683.03,205.35L682.69,205.44L682.35,205.53L682.02,205.62L681.70,205.70M672.08,207.90L671.57,208.00L671.05,208.11L670.53,208.21L670.02,208.32L669.51,208.42L669.00,208.52L668.49,208.62L667.99,208.72L667.50,208.81L667.02,208.91L666.55,209.00L666.09,209.09L665.64,209.17L665.21,209.25L664.79,209.33L664.39,209.40L664.01,209.47L663.65,209.54L663.31,209.60L662.99,209.65L662.70,209.70L662.40,209.75L662.08,209.80M652.23,211.17L651.62,211.25L651.01,211.33L650.40,211.41L649.80,211.49L649.20,211.56L648.61,211.64L648.03,211.71L647.46,211.78L646.90,211.85L646.35,211.92L645.81,211.98L645.29,212.05L644.79,212.11L644.30,212.16L643.84,212.22L643.39,212.27L642.97,212.32L642.57,212.36L642.20,212.40M632.06,213.34L631.25,213.41L630.42,213.48L629.59,213.55L628.76,213.62L627.92,213.69L627.09,213.77L626.26,213.84L625.43,213.91L624.61,213.98L623.81,214.05L623.01,214.11L622.23,214.18M611.65,215.05L611.01,215.10L610.34,215.15L609.65,215.20L608.93,215.26L608.19,215.31L607.44,215.37L606.66,215.43L605.88,215.49L605.08,215.55L604.27,215.61L603.45,215.67L602.63,215.73L601.80,215.79M591.04,216.61L590.42,216.66L589.83,216.70L589.27,216.75L588.74,216.79L588.26,216.83L587.81,216.87L587.40,216.90L587.00,216.93L586.56,216.97L586.09,217.01L585.59,217.05L585.06,217.09L584.51,217.14L583.93,217.19L583.32,217.24L582.70,217.29L582.06,217.34L581.40,217.39L580.73,217.45M570.76,218.32L570.08,218.39L569.43,218.46L568.78,218.52L568.16,218.59L567.56,218.65L566.98,218.72L566.43,218.78L565.90,218.84L565.40,218.90L564.93,218.97L564.50,219.03L564.09,219.08L563.73,219.14L563.40,219.20L563.08,219.26L562.74,219.33L562.38,219.41L562.01,219.50L561.62,219.59L561.21,219.69L560.79,219.80M551.09,222.77L550.63,222.92L550.18,223.07L549.74,223.22L549.32,223.36L548.91,223.50L548.52,223.63L548.14,223.76L547.78,223.88L547.45,224.00L547.13,224.11L546.83,224.21L546.55,224.31L546.30,224.40L546.05,224.49L545.78,224.59L545.48,224.70L545.17,224.81L544.84,224.94L544.49,225.07L544.13,225.21L543.76,225.36L543.37,225.51L542.96,225.67L542.55,225.83L542.13,226.00L541.70,226.17M531.60,230.41L531.40,230.50L531.21,230.59L531.01,230.68L530.80,230.79L530.57,230.89L530.34,231.01L530.10,231.13L529.85,231.25L529.59,231.38L529.32,231.52L529.05,231.66L528.77,231.80L528.49,231.94L528.21,232.09L527.92,232.24L527.63,232.39L527.34,232.54L527.05,232.70L526.75,232.86L526.46,233.01L526.17,233.17L525.89,233.32L525.60,233.48L525.32,233.63L525.05,233.78L524.78,233.94L524.51,234.08L524.26,234.23L524.01,234.37L523.77,234.51L523.53,234.65L523.31,234.78L523.10,234.90L522.90,235.02L522.72,235.14L522.54,235.25M519.20,245.30L519.20,245.42L519.20,245.55L519.20,245.69L519.20,245.85L519.20,246.01L519.20,246.19L519.20,246.37L519.21,246.57L519.21,246.78L519.21,246.99L519.22,247.21L519.22,247.44L519.23,247.68L519.24,247.92L519.24,248.17L519.25,248.43L519.26,248.69L519.26,248.95L519.27,249.22L519.28,249.49L519.29,249.77L519.29,250.04L519.30,250.32L519.31,250.60L519.32,250.88L519.32,251.16L519.33,251.44L519.34,251.72L519.35,252.00L519.35,252.27L519.36,252.54L519.36,252.81L519.37,253.08L519.38,253.34L519.38,253.60L519.39,253.85L519.39,254.10L519.39,254.34L519.40,254.57L519.40,254.80M519.45,265.33L519.45,265.96L519.45,266.60L519.46,267.22L519.46,267.84L519.46,268.46L519.46,269.06L519.47,269.65L519.47,270.22L519.47,270.78L519.47,271.31L519.48,271.83L519.48,272.33L519.48,272.80L519.49,273.24L519.49,273.66L519.49,274.04L519.49,274.40L519.50,274.72L519.50,275.00M519.69,286.39L519.70,286.78L519.71,287.16L519.72,287.53L519.73,287.88L519.74,288.21L519.75,288.53L519.76,288.83L519.77,289.10L519.77,289.36L519.78,289.60L519.79,289.81L519.80,290.00L519.81,290.18L519.82,290.37L519.83,290.57L519.84,290.78L519.85,290.99L519.87,291.21L519.88,291.44L519.90,291.67L519.91,291.91L519.93,292.15L519.95,292.40L519.96,292.65L519.98,292.90L520.00,293.16L520.02,293.41L520.04,293.67L520.06,293.92L520.08,294.18L520.11,294.44L520.13,294.69L520.15,294.94L520.17,295.19L520.20,295.43L520.22,295.68L520.24,295.91M525.93,303.20L526.05,303.24L526.18,303.29L526.30,303.33L526.43,303.37L526.55,303.42L526.68,303.46L526.80,303.50L526.94,303.55L527.09,303.60L527.27,303.66L527.47,303.73L527.69,303.80M538.89,307.28L539.15,307.34L539.40,307.40L539.65,307.46L539.94,307.51L540.26,307.58L540.60,307.64L540.97,307.71L541.37,307.78L541.80,307.85L542.24,307.93L542.71,308.01L543.19,308.09L543.69,308.17L544.21,308.25L544.74,308.34L545.29,308.43L545.84,308.52L546.40,308.61L546.98,308.70L547.55,308.79L548.14,308.88L548.72,308.97M551.62,309.43L552.19,309.52L552.74,309.61L553.29,309.69L553.82,309.78L554.34,309.87L554.84,309.95L555.33,310.03L555.80,310.11L556.24,310.19L556.67,310.26L557.07,310.34L557.44,310.41L557.79,310.47L558.11,310.54L558.40,310.60L558.69,310.66L559.00,310.74L559.34,310.82L559.69,310.90L560.08,311.00L560.48,311.10L560.90,311.20L561.33,311.32L561.79,311.43L562.25,311.56M565.28,312.37L565.80,312.51L566.33,312.66L566.86,312.80M576.02,315.36L576.26,315.42L576.50,315.49L576.76,315.56L577.03,315.63L577.31,315.71L577.60,315.78L577.90,315.86L578.20,315.94L578.51,316.02L578.83,316.10L579.16,316.19L579.48,316.27L579.81,316.36L580.15,316.45L580.48,316.54L580.82,316.63L581.16,316.72L581.49,316.81L581.83,316.90L582.16,316.99L582.49,317.08L582.81,317.17L583.13,317.26L583.45,317.34L583.75,317.43L584.05,317.52L584.34,317.61L584.63,317.69L584.90,317.77L585.16,317.86L585.41,317.94L585.65,318.01M590.90,322.26L590.99,322.39L591.09,322.52L591.18,322.64L591.26,322.76L591.34,322.88L591.41,322.99L591.48,323.10L591.54,323.20L591.60,323.30L591.65,323.40L591.71,323.52L591.77,323.65L591.83,323.79L591.90,323.94L591.97,324.10L592.04,324.28L592.11,324.46L592.18,324.65L592.25,324.85L592.33,325.05L592.41,325.27L592.48,325.49L592.56,325.71L592.64,325.94L592.71,326.17L592.79,326.41L592.86,326.65L592.94,326.89L593.01,327.13L593.08,327.38L593.16,327.62L593.22,327.86L593.29,328.10L593.36,328.34L593.42,328.58L593.48,328.81L593.54,329.04L593.59,329.26L593.64,329.48L593.69,329.69L593.73,329.89L593.77,330.09L593.80,330.28L593.83,330.46L593.85,330.63L593.87,330.79L593.89,330.94L593.90,331.08L593.90,331.20L593.90,331.32L593.89,331.46L593.88,331.61L593.86,331.77L593.84,331.93L593.81,332.11M591.35,339.45L591.24,339.58L591.12,339.72L590.99,339.86L590.85,340.01L590.70,340.16L590.54,340.32L590.37,340.48L590.20,340.65L590.02,340.82L589.84,340.99L589.65,341.16L589.45,341.34L589.26,341.52L589.06,341.70L588.85,341.88L588.65,342.06L588.45,342.25L588.24,342.43L588.04,342.61L587.84,342.79L587.64,342.97L587.44,343.15L587.25,343.33L587.06,343.50L586.87,343.68L586.69,343.85L586.52,344.01L586.36,344.17L586.20,344.33L586.05,344.49L585.91,344.63L585.78,344.78L585.66,344.91L585.55,345.05L585.45,345.17L585.37,345.29L585.30,345.40L585.24,345.51L585.17,345.64M583.07,354.12L583.06,354.34L583.06,354.58L583.06,354.83L583.06,355.09L583.07,355.36L583.07,355.65L583.08,355.95L583.09,356.25L583.10,356.56L583.11,356.88L583.12,357.21L583.13,357.54L583.15,357.87L583.16,358.21L583.18,358.55L583.20,358.89L583.22,359.24L583.24,359.58L583.26,359.92L583.28,360.25L583.30,360.59L583.32,360.91L583.35,361.24L583.37,361.55L583.40,361.86L583.42,362.17L583.45,362.46L583.48,362.74L583.50,363.01L583.53,363.27L583.56,363.51L583.59,363.74M586.95,374.12L587.01,374.25L587.08,374.38L587.15,374.52L587.23,374.66L587.32,374.81L587.41,374.96L587.51,375.11L587.61,375.27L587.71,375.43L587.82,375.59L587.93,375.76L588.05,375.93L588.16,376.10L588.28,376.27L588.40,376.45L588.51,376.62L588.63,376.80L588.75,376.97L588.86,377.15L588.97,377.33L589.08,377.50L589.19,377.68L589.30,377.85L589.40,378.03L589.49,378.20L589.58,378.37L589.67,378.54L589.75,378.71L589.83,378.87L589.89,379.03L589.95,379.19L590.00,379.34L590.05,379.49L590.08,379.64L590.11,379.78L590.12,379.92L590.12,380.05L590.12,380.18L590.10,380.30L590.07,380.43L590.02,380.57L589.96,380.73L589.89,380.91L589.80,381.10L589.70,381.31L589.59,381.53M582.55,390.62L582.34,390.75L582.13,390.88L581.90,391.01L581.67,391.14L581.42,391.27L581.18,391.41L580.92,391.54L580.66,391.68L580.40,391.81L580.13,391.95L579.86,392.08L579.58,392.22L579.30,392.35L579.02,392.49L578.74,392.62L578.46,392.75L578.18,392.88L577.90,393.01L577.62,393.14L577.34,393.26L577.07,393.38L576.80,393.50L576.53,393.62L576.26,393.74L576.01,393.85L575.75,393.95L575.51,394.06L575.27,394.16L575.04,394.26L574.81,394.35L574.60,394.44L574.39,394.52M563.65,398.27L563.19,398.43L562.73,398.58L562.29,398.73L561.85,398.87L561.43,399.01L561.02,399.15L560.62,399.28L560.25,399.40L559.89,399.52L559.54,399.63L559.22,399.73L558.93,399.83L558.65,399.92L558.40,400.00L558.15,400.08L557.88,400.16L557.58,400.25L557.26,400.35L556.92,400.45L556.57,400.56L556.19,400.67L555.80,400.78L555.40,400.90L554.98,401.02L554.55,401.15L554.11,401.28M544.21,404.15L543.87,404.26L543.55,404.36L543.25,404.45L542.98,404.54L542.73,404.62L542.50,404.70L542.28,404.78L542.03,404.86L541.78,404.95L541.50,405.05L541.21,405.16L540.90,405.27L540.59,405.38L540.26,405.51L539.92,405.63L539.57,405.76L539.21,405.90L538.84,406.04L538.47,406.18L538.09,406.32L537.70,406.47L537.32,406.62L536.93,406.77L536.54,406.92L536.15,407.07L535.76,407.22L535.37,407.38L534.99,407.53M526.74,413.45L526.64,413.61L526.55,413.76L526.45,413.91L526.36,414.05L526.28,414.19L526.20,414.33L526.12,414.46L526.05,414.58L525.98,414.70L525.91,414.82L525.85,414.92L525.80,415.02L525.75,415.12L525.70,415.20L525.66,415.28L525.61,415.38L525.57,415.47L525.52,415.58L525.47,415.69L525.42,415.81L525.38,415.93L525.33,416.06L525.28,416.19L525.23,416.33L525.18,416.47L525.13,416.61L525.08,416.76L525.03,416.91L524.99,417.06L524.94,417.22L524.89,417.37L524.84,417.53L524.80,417.69L524.75,417.85L524.70,418.00L524.66,418.16L524.62,418.32L524.57,418.48L524.53,418.63L524.49,418.78L524.45,418.93L524.42,419.08L524.38,419.23L524.34,419.37L524.31,419.50L524.28,419.64L524.25,419.77L524.22,419.89L524.20,420.01M523.89,429.59L523.89,429.78L523.89,429.96L523.89,430.14L523.90,430.32L523.90,430.49L523.90,430.66L523.90,430.82L523.90,430.97L523.90,431.12L523.90,431.26L523.90,431.39L523.90,431.51L523.90,431.62L523.90,431.72L523.90,431.81L523.90,431.88L523.90,431.95L523.90,432.00" stroke="#000" stroke-width="2.05"/>
</g>
<line x1="536.3" y1="120.6" x2="600.8" y2="95.5" stroke="#000" stroke-width="1.75"/>
<line x1="631.2" y1="238.1" x2="664.7" y2="263.8" stroke="#222" stroke-width="0.8"/>
<line x1="547.3" y1="334.4" x2="625.1" y2="357.9" stroke="#000" stroke-width="1.75"/>
<path d="M519.41,432.4v-1.7M536.51,432.4v-1.7M553.62,432.4v-1.7M570.73,432.4v-1.7M587.83,432.4v-1.7M604.94,432.4v-1.7M622.05,432.4v-1.7M639.15,432.4v-1.7M656.26,432.4v-1.7M673.37,432.4v-1.7M690.47,432.4v-1.7M707.58,432.4v-1.7M724.69,432.4v-1.7M741.79,432.4v-1.7" stroke="#000" stroke-width="0.9" fill="none" opacity="0.55"/>
<rect x="502.3" y="30.2" width="256.59999999999997" height="402.2" fill="none" stroke="#000" stroke-width="1.7"/>
<line x1="503.2" y1="31.2" x2="503.2" y2="431.59999999999997" stroke="#8a10ff" stroke-width="1.0" opacity="0.85"/>
<path d="M758.9,408.74h-7.4M502.3,408.74h5.8M758.9,385.08h-4.7M502.3,385.08h4.6M758.9,361.42h-7.4M502.3,361.42h5.8M758.9,337.76h-4.7M502.3,337.76h4.6M758.9,314.11h-7.4M502.3,314.11h5.8M758.9,290.45h-4.7M502.3,290.45h4.6M758.9,266.79h-7.4M502.3,266.79h5.8M758.9,243.13h-4.7M502.3,243.13h4.6M758.9,219.47h-7.4M502.3,219.47h5.8M758.9,195.81h-4.7M502.3,195.81h4.6M758.9,172.15h-7.4M502.3,172.15h5.8M758.9,148.49h-4.7M502.3,148.49h4.6M758.9,124.84h-7.4M502.3,124.84h5.8M758.9,101.18h-4.7M502.3,101.18h4.6M758.9,77.52h-7.4M502.3,77.52h5.8M758.9,53.86h-4.7M502.3,53.86h4.6" stroke="#000" stroke-width="1.2" fill="none"/>
<text transform="translate(10.6,39.9) scale(1,1.01)" font-family="'Liberation Sans', sans-serif" font-size="35.4" text-anchor="start" fill="#000">(b)</text>
<text transform="translate(71.8,417.3411764705882) scale(1,1.0)" font-family="'Liberation Sans', sans-serif" font-size="27" text-anchor="end" fill="#000">-4</text>
<text transform="translate(71.8,370.02352941176474) scale(1,1.0)" font-family="'Liberation Sans', sans-serif" font-size="27" text-anchor="end" fill="#000">-2</text>
<text transform="translate(71.8,322.70588235294116) scale(1,1.0)" font-family="'Liberation Sans', sans-serif" font-size="27" text-anchor="end" fill="#000">0</text>
<text transform="translate(71.8,275.3882352941177) scale(1,1.0)" font-family="'Liberation Sans', sans-serif" font-size="27" text-anchor="end" fill="#000">2</text>
<text transform="translate(71.8,228.07058823529408) scale(1,1.0)" font-family="'Liberation Sans', sans-serif" font-size="27" text-anchor="end" fill="#000">4</text>
<text transform="translate(71.8,180.75294117647056) scale(1,1.0)" font-family="'Liberation Sans', sans-serif" font-size="27" text-anchor="end" fill="#000">6</text>
<text transform="translate(71.8,133.43529411764706) scale(1,1.0)" font-family="'Liberation Sans', sans-serif" font-size="27" text-anchor="end" fill="#000">8</text>
<text transform="translate(71.8,86.11764705882352) scale(1,1.0)" font-family="'Liberation Sans', sans-serif" font-size="27" text-anchor="end" fill="#000">10</text>
<text transform="translate(40.0,231.9) rotate(-90) scale(1,1.02)" font-family="'Liberation Sans', sans-serif" font-size="28.4" text-anchor="middle" fill="#000">Energy (eV)</text>
<text transform="translate(83.6,456.9) scale(1,1.075)" font-family="'Liberation Sans', sans-serif" font-size="28.5" text-anchor="middle" fill="#000">M</text>
<text transform="translate(189.4,457.7) scale(1,1.0)" font-family="'Liberation Serif', serif" font-size="31" text-anchor="middle" fill="#000">&#915;</text>
<text transform="translate(279.9,456.9) scale(1,1.075)" font-family="'Liberation Sans', sans-serif" font-size="28.5" text-anchor="middle" fill="#000">R</text>
<text transform="translate(387.2,456.9) scale(1,1.075)" font-family="'Liberation Sans', sans-serif" font-size="28.5" text-anchor="middle" fill="#000">X</text>
<text transform="translate(476.2,456.9) scale(1,1.075)" font-family="'Liberation Sans', sans-serif" font-size="28.5" text-anchor="middle" fill="#000">M</text>
<text transform="translate(663.3,64.8) scale(1,1.02)" font-family="'Liberation Sans', sans-serif" font-size="24.0" text-anchor="start" fill="#000">HSE06</text>
<text transform="translate(610.2,99.5) scale(1,1.03)" font-family="'Liberation Sans', sans-serif" font-size="27.3" text-anchor="start" fill="#000">Ce 5d</text>
<text transform="translate(659.9,291.6) scale(1,1.03)" font-family="'Liberation Sans', sans-serif" font-size="27.2" text-anchor="start" fill="#000">Ce 4f</text>
<text transform="translate(635.2,366.8) scale(1,1.03)" font-family="'Liberation Sans', sans-serif" font-size="27.4" text-anchor="start" fill="#000">O 2p</text>
</svg>
</body></html>
